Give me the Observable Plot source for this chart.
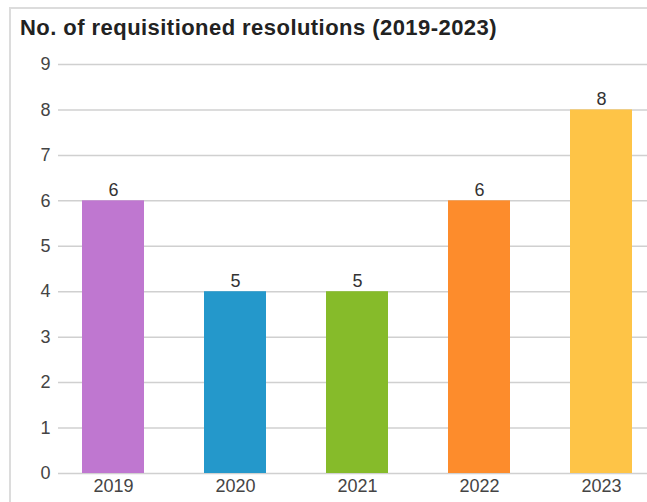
<!DOCTYPE html>
<html>
<head>
<meta charset="utf-8">
<script src="https://cdn.jsdelivr.net/npm/d3@7"></script>
<script src="https://cdn.jsdelivr.net/npm/@observablehq/plot@0.6"></script>
<style>
  html, body { margin: 0; padding: 0; background: #fff; overflow: hidden; width: 647px; height: 502px; }
  #frame { position: absolute; left: 9px; top: 7px; width: 700px; height: 600px;
           border-top: 2px solid #dcdcdc; border-left: 2px solid #dcdcdc; }
  #title { position: absolute; left: 20px; top: 15px; font-family: "Liberation Sans", Arial, sans-serif;
           font-weight: bold; font-size: 22px; letter-spacing: 0.45px; color: #222; white-space: nowrap; }
  #chart { position: absolute; left: 0; top: 44px; width: 663px; }
  #chart svg { max-width: none !important; }
</style>
</head>
<body>
<div id="frame"></div>
<div id="title">No. of requisitioned resolutions (2019-2023)</div>
<div id="chart"></div>
<script>
const years = ["2019", "2020", "2021", "2022", "2023"];
const barValues = [6, 4, 4, 6, 8];
const valueLabels = ["6", "5", "5", "6", "8"];
const barColors = ["#bf77d0", "#2498cb", "#86bb2a", "#fd8c2c", "#fec447"];
const yTicks = [0, 1, 2, 3, 4, 5, 6, 7, 8, 9];

const data = years.map((y, i) => ({year: y, value: barValues[i], label: valueLabels[i]}));

const chart = Plot.plot({
  width: 663,
  height: 458,
  marginTop: 20,
  marginBottom: 29,
  marginLeft: 51,
  marginRight: 0,
  style: {fontFamily: "'Liberation Sans', Arial, sans-serif", fontSize: "18px", color: "#444", background: "transparent", maxWidth: "none"},
  x: {domain: years, paddingInner: 0.49, paddingOuter: 0.245, label: null},
  y: {domain: [0, 9], label: null},
  color: {domain: years, range: barColors},
  marks: [
    Plot.ruleY(yTicks, {stroke: "#d0d0d0", strokeWidth: 1.5, insetLeft: 7}),
    Plot.barY(data, {x: "year", y: "value", fill: "year"}),
    Plot.text(data, {x: "year", y: "value", text: "label", dy: -5, lineAnchor: "bottom", fill: "#333", fontSize: 18}),
    Plot.axisY(yTicks, {tickSize: 0, tickPadding: 1, label: null, fill: "#444", fontSize: 18}),
    Plot.axisX(years, {tickSize: 0, tickPadding: 6, label: null, fill: "#444", fontSize: 18})
  ]
});
document.getElementById("chart").appendChild(chart);
</script>
</body>
</html>
